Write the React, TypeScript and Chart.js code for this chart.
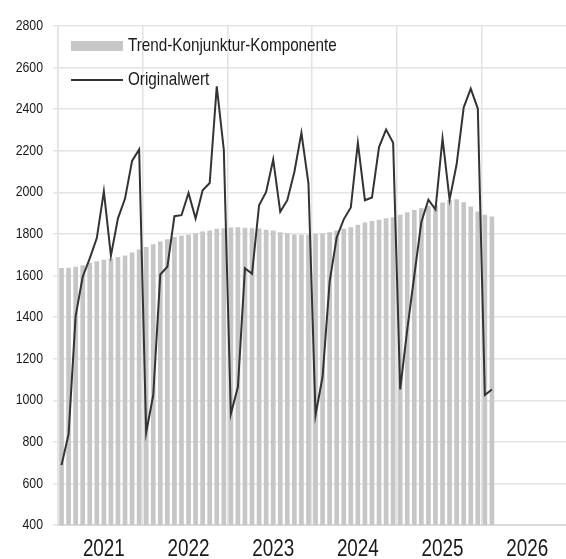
import React, { useEffect, useRef } from "react";
import { Chart, registerables } from "chart.js";

Chart.register(...registerables);

const years = [2021, 2022, 2023, 2024, 2025, 2026];
const monthCodes = ["01", "02", "03", "04", "05", "06", "07", "08", "09", "10", "11", "12"];
const categories = years.flatMap((y) => monthCodes.map((m) => `${y}-${m}`));

const trendLabel = "Trend-Konjunktur-Komponente";
const originalLabel = "Originalwert";

const trendValues = [
  1635, 1636, 1641, 1648, 1660, 1667, 1674, 1680, 1687, 1695, 1709, 1724,
  1735, 1749, 1762, 1773, 1783, 1789, 1794, 1802, 1810, 1815, 1823, 1826,
  1829, 1831, 1828, 1826, 1824, 1818, 1815, 1807, 1802, 1796, 1794, 1794,
  1799, 1802, 1807, 1815, 1823, 1831, 1842, 1853, 1861, 1866, 1874, 1879,
  1890, 1903, 1914, 1922, 1933, 1938, 1949, 1962, 1965, 1951, 1930, 1906,
  1890, 1882,
];

const originalValues = [
  688, 837, 1405, 1594, 1682, 1780, 2005, 1695, 1875, 1970, 2151, 2206,
  845, 1025, 1605, 1642, 1885, 1890, 1997, 1874, 2010, 2045, 2510, 2205,
  934, 1065, 1635, 1608, 1938, 2002, 2158, 1906, 1962, 2098, 2286, 2042,
  929, 1113, 1570, 1783, 1870, 1927, 2238, 1962, 1975, 2218, 2302, 2238,
  1052, 1340, 1600, 1858, 1965, 1917, 2259, 1965, 2135, 2408, 2499, 2403,
  1025, 1052,
];

const yTicks = [400, 600, 800, 1000, 1200, 1400, 1600, 1800, 2000, 2200, 2400, 2600, 2800];

const FONT = "'Liberation Sans', Arial, sans-serif";
const SQUEEZE = 0.82; // narrow look of the original typeface
const BAR_COLOR = "#c6c6c6";
const LINE_COLOR = "#333333";
const TEXT_COLOR = "#1a1a1a";

function narrowText(ctx: any, text: string, x: number, y: number, align: string) {
  ctx.save();
  ctx.translate(x, y);
  ctx.scale(SQUEEZE, 1);
  ctx.textAlign = align;
  ctx.fillText(text, 0, 0);
  ctx.restore();
}

const labelsPlugin = {
  id: "narrowLabels",
  afterDraw(chart: any) {
    const { ctx, chartArea } = chart;
    const xs = chart.scales.x;
    const ys = chart.scales.y;
    ctx.save();
    ctx.fillStyle = TEXT_COLOR;
    ctx.textBaseline = "middle";

    // y tick labels
    ctx.font = `15px ${FONT}`;
    ys.ticks.forEach((t: any) => {
      narrowText(ctx, String(t.value), xs.left - 15, ys.getPixelForValue(t.value), "right");
    });

    // x year labels (centred under each year)
    ctx.font = `23px ${FONT}`;
    ctx.textBaseline = "alphabetic";
    years.forEach((yr, i) => {
      const px = xs.getPixelForTick(i * 12 + 6);
      narrowText(ctx, String(yr), px, xs.top + 31, "center");
    });

    // legend inside plot area
    const x0 = chartArea.left + 13;
    const row1 = chartArea.top + 20;
    const row2 = chartArea.top + 54;
    ctx.fillStyle = BAR_COLOR;
    ctx.fillRect(x0, row1 - 5, 52, 10);
    ctx.strokeStyle = LINE_COLOR;
    ctx.lineWidth = 2;
    ctx.beginPath();
    ctx.moveTo(x0, row2);
    ctx.lineTo(x0 + 52, row2);
    ctx.stroke();
    ctx.fillStyle = TEXT_COLOR;
    ctx.font = `18.6px ${FONT}`;
    ctx.textBaseline = "middle";
    narrowText(ctx, chart.data.datasets[1].label, x0 + 57, row1, "left");
    narrowText(ctx, chart.data.datasets[0].label, x0 + 57, row2, "left");
    ctx.restore();
  },
};

export default function App() {
  const ref = useRef<HTMLCanvasElement | null>(null);

  useEffect(() => {
    if (!ref.current) return;
    const chart = new Chart(ref.current, {
      type: "bar",
      data: {
        labels: categories,
        datasets: [
          {
            type: "line",
            label: originalLabel,
            data: originalValues,
            borderColor: LINE_COLOR,
            borderWidth: 2,
            pointRadius: 0,
            tension: 0,
            fill: false,
            order: 0,
          } as any,
          {
            type: "bar",
            label: trendLabel,
            data: trendValues,
            backgroundColor: BAR_COLOR,
            barThickness: 4,
            order: 1,
          },
        ],
      },
      options: {
        responsive: false,
        animation: false,
        layout: { padding: { top: 26, right: 0, left: 0, bottom: 0 } },
        plugins: { legend: { display: false }, tooltip: { enabled: false } },
        scales: {
          x: {
            type: "category",
            offset: true,
            grid: {
              offset: true,
              drawTicks: false,
              lineWidth: 1.5,
              color: (c: any) => (c.index % 12 === 0 ? "#e2e2e2" : "rgba(0,0,0,0)"),
            },
            border: { color: "#d9d9d9", width: 2 },
            ticks: { display: false, autoSkip: false, maxRotation: 0, minRotation: 0 },
            afterFit: (s: any) => {
              s.height = 34;
            },
          },
          y: {
            min: 400,
            max: 2800,
            afterBuildTicks: (s: any) => {
              s.ticks = yTicks.map((v) => ({ value: v }));
            },
            grid: { color: "#e4e4e4", lineWidth: 1.5, tickLength: 5 },
            border: { color: "#e2e2e2", width: 1.5 },
            ticks: { display: false },
            afterFit: (s: any) => {
              s.width = 58;
            },
          },
        },
      },
      plugins: [labelsPlugin],
    });
    return () => chart.destroy();
  }, []);

  return (
    <div style={{ position: "fixed", left: 0, top: 0, width: 566, height: 559, background: "#fff" }}>
      <canvas ref={ref} width={566} height={559} />
    </div>
  );
}
